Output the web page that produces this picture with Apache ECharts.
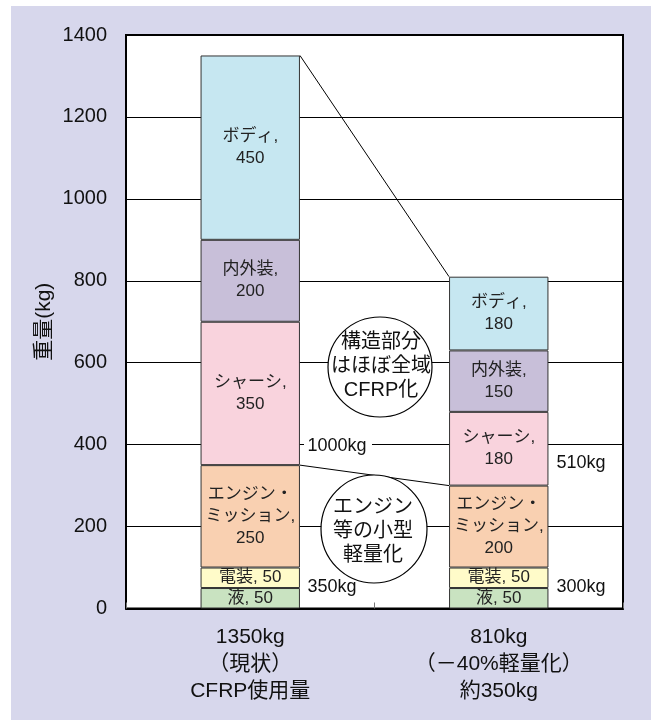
<!DOCTYPE html>
<html>
<head>
<meta charset="utf-8">
<script src="https://cdn.jsdelivr.net/npm/echarts@6/dist/echarts.min.js"></script>
<style>
  html, body { margin: 0; padding: 0; background: #ffffff; }
  #wrap { position: relative; width: 651px; height: 720px; }
  #bg { position: absolute; left: 11px; top: 6px; width: 640px; height: 714px; background: #d7d7ec; }
  #chart { position: absolute; left: 0; top: 0; width: 651px; height: 720px; }
</style>
</head>
<body>
<div id="wrap"><div id="bg"></div><div id="chart"></div></div>
<script>
// ---- data ----
const categories = ['1350kg\n（現状）\nCFRP使用量', '810kg\n（－40%軽量化）\n約350kg'];
const seriesNames = ['液', '電装', 'エンジン・ミッション', 'シャーシ', '内外装', 'ボディ'];
const labelPrefixes = ['液, ', '電装, ', 'エンジン・\nミッション,\n', 'シャーシ,\n', '内外装,\n', 'ボディ,\n'];
const currentValues = [50, 50, 250, 350, 200, 450];
const lightValues = [50, 50, 200, 180, 150, 180];
const seriesColors = ['#c9e3c1', '#fffbc9', '#f9d0b1', '#f9d3dd', '#c8bfd9', '#c6e7f1'];
const yAxisName = '重量(kg)';
const yMin = 0, yMax = 1400, yInterval = 200;
const noteStructure = ['構造部分', 'はほぼ全域', 'CFRP化'];
const noteEngine = ['エンジン', '等の小型', '軽量化'];
const cfrpLabels = ['1000kg', '510kg', '350kg', '300kg'];

// ---- chart ----
const FONT = "'Liberation Sans', 'Noto Sans CJK JP', sans-serif";
const BAR_FRAC = 0.4;
const sum = (a, n) => a.slice(0, n).reduce((s, v) => s + v, 0);

const chart = echarts.init(document.getElementById('chart'), null, { renderer: 'canvas' });

const barSeries = seriesNames.map((name, i) => ({
  name: name,
  type: 'bar',
  stack: 'total',
  barWidth: (BAR_FRAC * 100) + '%',
  data: [currentValues[i], lightValues[i]],
  itemStyle: { color: seriesColors[i], borderColor: '#333', borderWidth: 1 },
  label: {
    show: true,
    position: 'inside',
    color: '#222',
    fontSize: 17,
    lineHeight: 22,
    fontFamily: FONT,
    formatter: p => labelPrefixes[i] + p.value
  },
  emphasis: { disabled: true }
}));

const half = BAR_FRAC / 2;
const connectorTop = {
  type: 'line', xAxisIndex: 1, yAxisIndex: 0, symbol: 'none', silent: true, z: 5,
  lineStyle: { color: '#000', width: 1 },
  data: [[0.5 + half, sum(currentValues, 6)], [1.5 - half, sum(lightValues, 6)]]
};
const connectorEngine = {
  type: 'line', xAxisIndex: 1, yAxisIndex: 0, symbol: 'none', silent: true, z: 5,
  lineStyle: { color: '#000', width: 1 },
  data: [[0.5 + half, sum(currentValues, 3)], [1.5 - half, sum(lightValues, 3)]]
};

function txt(text, x, y, size, lh) {
  return {
    type: 'text', z: 20, silent: true,
    style: {
      text: text, x: x, y: y, fill: '#111', fontSize: size, fontFamily: FONT,
      align: 'center', verticalAlign: 'middle', lineHeight: lh || size * 1.2
    }
  };
}

const option = {
  animation: false,
  backgroundColor: 'transparent',
  textStyle: { fontFamily: FONT },
  grid: {
    left: 126, right: 28, top: 35, bottom: 111.5,
    show: true, backgroundColor: '#ffffff', borderColor: '#000', borderWidth: 2
  },
  xAxis: [
    {
      type: 'category',
      data: categories,
      axisLine: { show: true, lineStyle: { color: '#000', width: 2 } },
      axisTick: { show: true, inside: true, length: 6, lineStyle: { color: '#777' } },
      axisLabel: { color: '#111', fontSize: 21, lineHeight: 27, margin: 15, fontFamily: FONT },
      splitLine: { show: false }
    },
    { type: 'value', min: 0, max: 2, show: false }
  ],
  yAxis: {
    type: 'value',
    min: yMin, max: yMax, interval: yInterval,
    name: yAxisName,
    nameLocation: 'middle',
    nameRotate: 90,
    nameGap: 71,
    nameMoveOverlap: false,
    nameTextStyle: { color: '#111', fontSize: 21, fontFamily: FONT },
    axisLine: { show: false },
    axisTick: { show: false },
    axisLabel: { color: '#111', fontSize: 20, margin: 19, fontFamily: FONT, formatter: v => String(v) },
    splitLine: { show: true, lineStyle: { color: '#000', width: 1 } }
  },
  series: barSeries.concat([connectorTop, connectorEngine]),
  graphic: [
    { type: 'ellipse', z: 15, silent: true, shape: { cx: 380, cy: 367, rx: 52, ry: 50 },
      style: { fill: '#fff', stroke: '#000', lineWidth: 1.2 } },
    txt(noteStructure.join('\n'), 381, 366, 20, 24),
    { type: 'ellipse', z: 15, silent: true, shape: { cx: 374, cy: 529, rx: 53, ry: 54 },
      style: { fill: '#fff', stroke: '#000', lineWidth: 1.2 } },
    txt(noteEngine.join('\n'), 373, 531, 20, 24),
    { type: 'rect', z: 15, silent: true, shape: { x: 304, y: 437, width: 68, height: 18 },
      style: { fill: '#fff' } },
    txt(cfrpLabels[0], 337, 446, 18),
    txt(cfrpLabels[1], 581, 463, 18),
    txt(cfrpLabels[2], 332, 587, 18),
    txt(cfrpLabels[3], 581, 587, 18)
  ]
};

chart.setOption(option);
</script>
</body>
</html>
